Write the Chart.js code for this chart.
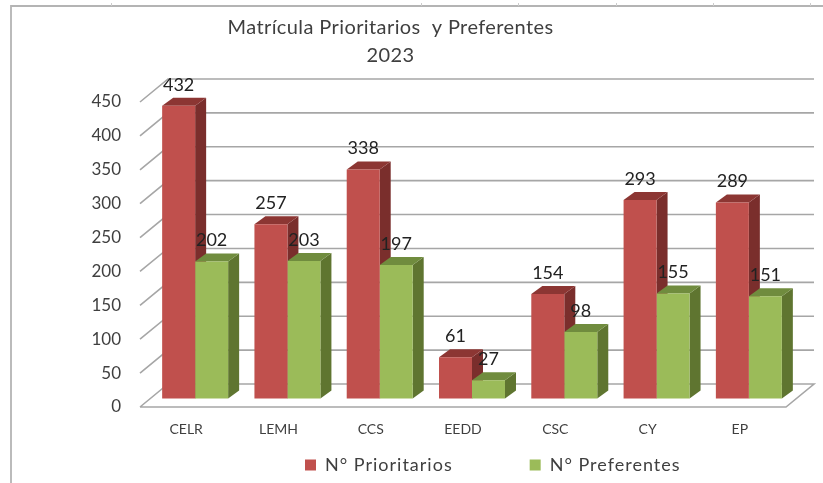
<!DOCTYPE html>
<html><head><meta charset="utf-8">
<style>html,body{margin:0;padding:0;background:#fff}#w{width:823px;height:483px;position:relative}</style>
<script src="https://cdn.jsdelivr.net/npm/chart.js@4"></script>
</head><body><div id="w"><canvas id="c" width="823" height="483"></canvas></div>
<script>
const categories = ["CELR","LEMH","CCS","EEDD","CSC","CY","EP"];
const prioritarios = [432,257,338,61,154,293,289];
const preferentes = [202,203,197,27,98,155,151];
const titleLines = ["Matrícula Prioritarios  y Preferentes","2023"];
const FONT = "Lato, Carlito, sans-serif";
const TEXT = "#3f3f3f";
const LABEL = "#222222";
const shades = [
  {side:"#7a2e2c", top:"#8c3633"},
  {side:"#5f7530", top:"#708c3e"}
];
const DEPTH_X=11, DEPTH_Y=8, WALL_X=28, WALL_Y=23, PLANE_X=9, PLANE_Y=8.5;
const FRAME_MARKS=[111,421,518,616,713,810];

function spaced(box, spacing){
  const d = box.draw;
  box.draw = function(a){
    const c = this.ctx; const old = c.letterSpacing;
    c.letterSpacing = spacing;
    d.call(this,a);
    c.letterSpacing = old;
  };
}

const threeD = {
  id:"threeD",
  beforeLayout(chart){
    const l = chart.legend;
    if(!l._wrapped){
      l._wrapped = true;
      const f = l.fit;
      l.fit = function(){ f.call(this); this.height = 40; };
      spaced(l,"1px");
      spaced(chart.titleBlock,"0.4px");
    }
  },
  afterLayout(chart){
    const t = chart.titleBlock; t.left = 0; t.right = 781;
    const l = chart.legend; const p = l.options.labels.padding;
    l.left = 305 - p; l.right = l.left + 800; l.top = 456 - p;
  },
  beforeDraw(chart){
    const c = chart.ctx; c.save();
    c.strokeStyle="#b4b4b4"; c.lineWidth=1.8;
    c.beginPath(); c.moveTo(11,483); c.lineTo(11,6); c.lineTo(823,6); c.stroke();
    c.lineWidth=1; c.strokeStyle="#cccccc";
    FRAME_MARKS.forEach(x=>{c.beginPath();c.moveTo(x+.5,3);c.lineTo(x+.5,6);c.stroke();});
    const {left,right} = chart.chartArea; const y = chart.scales.y;
    c.strokeStyle="#a6a6a6"; c.lineWidth=1.6;
    y.ticks.forEach(t=>{
      const py = y.getPixelForValue(t.value);
      c.beginPath(); c.moveTo(left,py); c.lineTo(left+WALL_X,py-WALL_Y); c.lineTo(right+WALL_X,py-WALL_Y);
      if(t.value===0){ c.lineTo(right,py); c.lineTo(left,py); }
      c.stroke();
    });
    c.restore();
  },
  beforeDatasetsDraw(chart){
    const c = chart.ctx;
    c.save(); c.translate(PLANE_X,-PLANE_Y);
    shades.forEach((s,i)=>{
      chart.getDatasetMeta(i).data.forEach(b=>{
        const x0=b.x-b.width/2, x1=b.x+b.width/2, yt=b.y, yb=b.base;
        c.fillStyle=s.side; c.beginPath();
        c.moveTo(x1,yt); c.lineTo(x1+DEPTH_X,yt-DEPTH_Y); c.lineTo(x1+DEPTH_X,yb-DEPTH_Y); c.lineTo(x1,yb); c.closePath(); c.fill();
        c.fillStyle=s.top; c.beginPath();
        c.moveTo(x0,yt); c.lineTo(x0+DEPTH_X,yt-DEPTH_Y); c.lineTo(x1+DEPTH_X,yt-DEPTH_Y); c.lineTo(x1,yt); c.closePath(); c.fill();
      });
    });
  },
  afterDatasetsDraw(chart){
    const c = chart.ctx;
    c.font = "18px "+FONT; c.fillStyle=LABEL; c.textAlign="center"; c.textBaseline="middle";
    chart.data.datasets.forEach((ds,i)=>{
      chart.getDatasetMeta(i).data.forEach((b,j)=>{
        c.fillText(String(ds.data[j]), b.x, b.y-21);
      });
    });
    c.restore();
  }
};

new Chart(document.getElementById("c"),{
  type:"bar",
  data:{labels:categories,datasets:[
    {label:"N° Prioritarios",data:prioritarios,backgroundColor:"#c0504d",clip:false,categoryPercentage:0.715,barPercentage:1},
    {label:"N° Preferentes",data:preferentes,backgroundColor:"#9bbb59",clip:false,categoryPercentage:0.715,barPercentage:1}
  ]},
  options:{
    responsive:false,animation:false,
    layout:{padding:{left:0,right:37,top:0,bottom:0}},
    scales:{
      x:{grid:{display:false},border:{display:false},
         afterFit(s){s.height=36;},
         ticks:{padding:6,color:TEXT,font:{family:FONT,size:14},maxRotation:0}},
      y:{min:0,max:450,grid:{display:false,drawTicks:false},border:{display:false},
         afterFit(s){s.width=140;},
         ticks:{stepSize:50,padding:19,color:TEXT,font:{family:FONT,size:17}}}
    },
    plugins:{
      tooltip:{enabled:false},
      title:{display:true,text:titleLines,color:TEXT,font:{family:FONT,size:20,weight:"normal",lineHeight:1.4},padding:{top:14,bottom:32}},
      legend:{position:"bottom",align:"start",
        labels:{boxWidth:11,boxHeight:11,padding:77,color:TEXT,font:{family:FONT,size:18}}}
    }
  },
  plugins:[threeD]
});
</script></body></html>
